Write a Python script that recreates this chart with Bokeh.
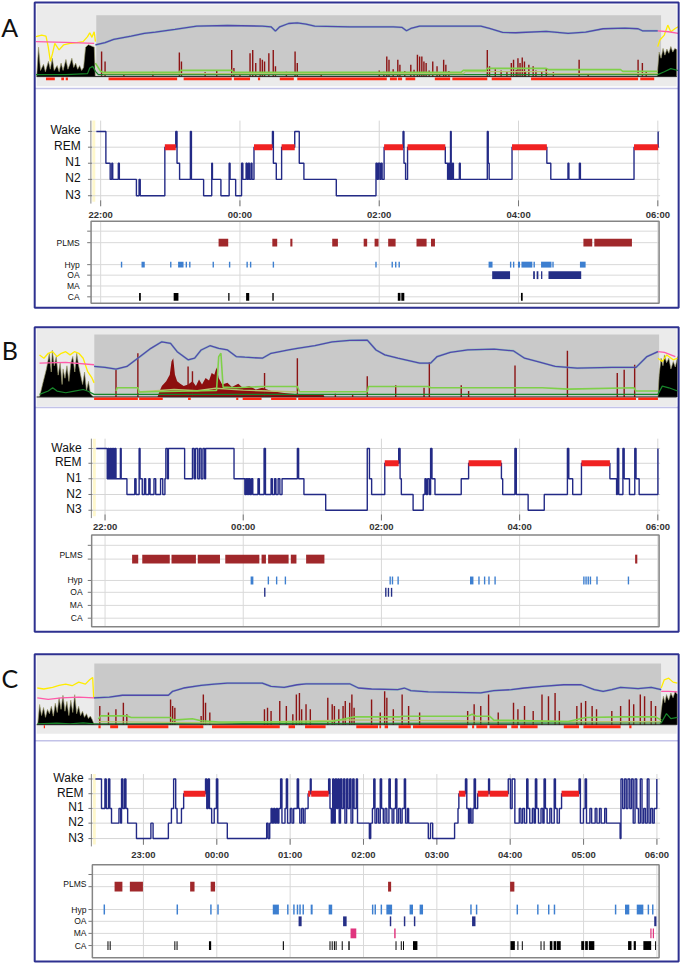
from bokeh.plotting import figure
from bokeh.layouts import column
from bokeh.models import Range1d
from bokeh.core.properties import value
from bokeh.embed import file_html
from bokeh.resources import INLINE

FONT = "Liberation Sans"
STAGE_NAMES = ["Wake", "REM", "N1", "N2", "N3"]
STAGE_CODE = {"W": 0, "R": 1, "N1": 2, "N2": 3, "N3": 4}
EVENT_NAMES = ["PLMS", "Hyp", "OA", "MA", "CA"]
EVENT_COLORS = ["#a0282b", "#3d7fd0", "#252f86", "#e0357e", "#000000"]

# ======================= Panel A (times in minutes after 22:00) =======================
A_TICKS = [0, 120, 240, 360, 480]
A_TICK_LABELS = ["22:00", "00:00", "02:00", "04:00", "06:00"]
A_HYP_T = [-3.7, 4.5, 8.2, 9.6, 10.4, 15.2, 16.1, 30.8, 33.1, 34.1, 55.3, 64.7, 65.8, 68.0, 77.3, 78.2,
           88.7, 95.7, 96.3, 103.6, 110.7, 111.5, 116.3, 121.4, 122.5, 125.3, 126.2, 127.3, 128.2, 129.6,
           130.4, 132.1, 148.0, 148.8, 151.3, 155.9, 167.2, 171.1, 175.1, 203.0, 237.2, 238.3, 239.2,
           240.5, 241.4, 242.5, 244.2, 260.5, 261.3, 262.7, 264.4, 296.9, 298.9, 299.7, 300.5, 301.4,
           302.0, 303.1, 303.9, 309.0, 309.8, 333.1, 333.9, 334.7, 354.4, 384.4, 387.8, 402.6, 403.4,
           412.4, 413.3, 459.5, 480.3]
A_HYP_S = ["W", "N1", "N2", "N1", "N2", "N1", "N2", "N3", "N2", "N3", "R", "W", "N1", "N2", "W", "N2",
           "N3", "N1", "N2", "N3", "N1", "N2", "N3", "N1", "N2", "N1", "N2", "N1", "N2", "N1",
           "N2", "R", "W", "N1", "N2", "R", "W", "N1", "N2", "N3", "N1", "N2", "N1",
           "N2", "N1", "N2", "R", "W", "N1", "N2", "R", "N1", "N2", "N1", "N2", "W",
           "N2", "N1", "N2", "N1", "N2", "W", "N1", "N2", "R", "N1", "N2", "N1", "N2",
           "N1", "N2", "R", "W"]
A_PLMS = [(101.6, 109.9), (147.9, 152.1), (163.4, 165.2), (199.5, 204.4), (226.6, 229.6), (236.0, 239.4),
          (247.7, 254.1), (272.1, 280.8), (284.6, 288.0), (415.9, 423.5), (425.3, 457.7)]
A_HYPOPNEA = [(17.4, 18.6), (35.2, 38.0), (59.8, 61.0), (66.7, 71.4), (73.2, 74.4), (76.2, 77.4),
              (96.4, 97.6), (110.5, 111.7), (125.6, 126.8), (128.6, 129.8), (148.2, 149.4), (236.6, 237.8),
              (250.6, 251.8), (253.6, 254.8), (256.6, 257.8), (334.2, 337.6), (352.6, 353.8), (355.2, 356.4),
              (359.5, 361.3), (362.5, 371.9), (372.9, 374.1), (379.4, 388.4), (389.1, 390.3), (412.9, 417.8)]
A_OA = [(337.3, 352.7), (372.6, 374.1), (375.6, 377.1), (379.4, 380.5), (385.8, 414.0)]
A_MA = []
A_CA = [(33.1, 34.6), (62.9, 67.0), (109.9, 111.0), (125.3, 128.0), (147.9, 149.1), (256.0, 258.3),
        (259.0, 261.6), (362.1, 363.6)]
# overview strip (levels in % of strip height)
A_SPO2_T = [-4.5, 3.8, 11.3, 26.3, 37.6, 47.1, 64.0, 82.8, 109.2, 139.3, 146.8, 150.6, 154.3, 161.9, 169.4,
            176.9, 184.4, 214.5, 252.2, 259.7, 263.5, 267.2, 274.8, 327.5, 335.0, 346.3, 357.6, 383.9,
            402.7, 417.8, 432.9, 451.7, 463.0, 466.7, 479.9]
A_SPO2_V = [51.6, 55.4, 60.8, 66.1, 70.4, 72.6, 76.9, 82.3, 83.3, 82.3, 81.2, 74.2, 81.2, 86.6, 87.6,
            85.5, 82.3, 81.2, 81.2, 80.1, 74.7, 78.5, 82.3, 82.3, 78.5, 72.0, 71.5, 73.7,
            70.4, 72.6, 78.0, 79.0, 78.0, 74.7, 74.7]
A_PINK_L_T = [-55.7, -30.1, -5.6]
A_PINK_L_V = [57.0, 55.9, 54.3]
A_PINK_R_T = [479.9, 489.3, 497.6]
A_PINK_R_V = [74.7, 73.1, 70.4]
A_YEL_L_T = [-55.7, -50.8, -47.1, -45.2, -43.3, -41.4, -39.5, -35.8, -32.0, -26.3, -20.7, -15.1, -11.3,
             -9.4, -7.5, -5.6, -4.5]
A_YEL_L_V = [65.1, 67.7, 66.1, 48.9, 24.7, 38.2, 54.3, 43.5, 51.6, 54.3, 55.4, 57.0, 65.1,
             71.5, 64.0, 73.1, 57.0]
A_YEL_R_T = [479.9, 481.8, 485.6, 488.6, 491.2, 495.0, 497.6]
A_YEL_R_V = [48.9, 59.7, 67.7, 83.9, 73.1, 78.5, 81.2]
A_BLK_L_T = [-55.1, -53.5, -51.8, -49.2, -47.6, -45.0, -43.4, -41.7, -40.0, -37.5, -35.8, -34.1, -32.4,
             -29.9, -28.2, -26.5, -24.8, -23.2, -21.5, -19.8, -18.1, -16.4, -14.7, -13.0, -10.5, -8.0,
             -5.5, -4.6]
A_BLK_L_V = [0, 48, 10, 20, 8, 25, 12, 30, 10, 18, 8, 22, 10, 28, 12, 20, 30, 15, 22, 12, 18, 10, 15, 48,
             52, 50, 48, 0]
A_BLK_R_T = [479.4, 481.1, 482.8, 484.5, 486.1, 487.8, 489.5, 491.2, 492.9, 494.6, 496.3, 496.3]
A_BLK_R_V = [0, 40, 30, 46, 35, 45, 38, 49, 40, 46, 44, 0]
A_SPIKE_T = [0.8, 3.8, 67.8, 69.6, 112.9, 114.8, 128.7, 131.0, 133.6, 137.4, 139.3, 141.2, 144.9, 148.7,
             150.6, 167.5, 169.4, 246.5, 248.4, 256.0, 257.8, 267.2, 272.9, 274.8, 276.7, 278.5, 280.4,
             286.1, 289.8, 295.5, 297.4, 333.1, 335.0, 353.8, 355.7, 359.5, 361.3, 363.2, 365.1, 368.9,
             372.6, 383.9, 412.2, 463.0, 466.7, 20.0, 45.0, 90.0, 100.0, 120.0, 160.0, 190.0, 240.0,
             244.0, 252.0, 262.0, 270.0, 283.0, 292.0, 300.0, 340.0, 345.0, 350.0, 358.0, 366.0, 375.0,
             380.0, 390.0, 420.0, 470.0]
A_SPIKE_V = [40.9, 24.7, 39.2, 24.7, 43.5, 14.0, 38.2, 43.5, 22.0, 30.1, 27.4, 24.7, 38.2, 43.5,
             16.7, 40.9, 22.0, 32.8, 27.4, 27.4, 19.4, 19.4, 35.5, 32.8, 32.8, 24.7, 22.0,
             24.7, 16.7, 27.4, 19.4, 43.5, 16.7, 22.0, 27.4, 30.1, 22.0, 31.2, 24.7, 19.4,
             16.7, 14.0, 27.4, 27.4, 22.0, 6.0, 8.0, 7.0, 9.0, 6.0, 8.0, 6.0, 10.0,
             8.0, 12.0, 9.0, 11.0, 10.0, 7.0, 9.0, 12.0, 10.0, 8.0, 11.0, 9.0, 10.0,
             8.0, 7.0, 6.0, 9.0]
A_BLOB_T = []
A_BLOB_V = []
A_GREEN_T = [-4.5, 0.0, 1.9, 67.8, 68.9, 112.9, 114.8, 310.5, 312.4, 332.0, 333.1, 383.9, 385.8, 447.9,
             449.8, 479.9]
A_GREEN_V = [22.0, 8.6, 7.0, 7.0, 10.2, 10.2, 7.0, 7.0, 10.2, 10.2, 13.4, 13.4, 11.3, 11.3, 8.6, 8.6]
A_OLIVE_T = [1.9, 312.4, 314.3, 383.9, 385.8, 479.9]
A_OLIVE_V = [4.8, 4.8, 8.1, 8.1, 4.8, 4.8]
A_DKGREEN_T = [-55.7, -30.1, -11.3, -9.4, -6.8, -4.5, -2.0, 479.9, 485.6, 491.2, 497.6]
A_DKGREEN_V = [3.2, 3.2, 4.8, 14.0, 16.7, 8.6, 3.2, 3.2, 8.0, 13.0, 10.0]
A_REDBAR = [(-47.1, -39.5), (-33.9, -31.6), (-30.1, -28.2), (6.8, 65.9), (71.5, 112.9), (114.8, 128.7),
            (135.5, 137.4), (154.3, 166.4), (169.4, 246.5), (249.2, 255.2), (256.0, 259.7), (262.7, 271.0),
            (287.9, 301.1), (303.0, 333.1), (336.9, 353.8), (370.8, 463.0), (464.9, 476.9)]

# ======================= Panel B =======================
B_TICKS = [0, 120, 240, 360, 480]
B_TICK_LABELS = ["22:00", "00:00", "02:00", "04:00", "06:00"]
B_HYP_T = [-7.6, 1.9, 2.7, 3.4, 4.2, 4.9, 5.7, 6.5, 7.2, 8.0, 8.7, 9.5, 13.3, 14.0, 19.0, 25.8, 26.9,
           29.6, 30.4, 32.3, 34.2, 35.3, 38.0, 39.1, 42.5, 44.0, 48.2, 50.1, 52.0, 52.8, 54.3, 55.0,
           69.1, 75.9, 77.4, 78.6, 80.5, 82.0, 83.5, 85.0, 86.5, 87.3, 112.0, 121.4, 122.2, 123.0,
           123.7, 124.5, 125.2, 126.0, 127.1, 128.3, 132.8, 134.0, 138.1, 139.3, 144.2, 145.3, 147.2,
           148.4, 150.3, 151.8, 153.7, 167.0, 168.1, 172.7, 191.6, 227.7, 229.6, 231.5, 242.9, 255.0,
           256.2, 257.3, 267.5, 276.3, 277.8, 278.9, 280.1, 281.6, 282.7, 283.9, 286.5, 309.3, 315.7,
           344.2, 345.3, 355.9, 357.1, 367.4, 381.4, 401.5, 402.7, 406.1, 413.7, 438.4, 444.2, 444.9,
           446.1, 449.7, 450.8, 455.4, 460.0, 461.1, 463.8, 480.1]
B_HYP_S = ["W", "N1", "W", "N1", "W", "N1", "W", "N1", "W", "N1", "W", "N1", "W", "N1", "N2", "N1", "N2",
           "W", "N1", "N2", "N1", "N2", "N1", "N2", "N1", "N2", "N1", "N2", "N1", "W", "N1", "W",
           "N1", "W", "N1", "W", "N1", "W", "N1", "W", "N1", "W", "N1", "N2", "N1", "N2",
           "N1", "N2", "N1", "N2", "N1", "N2", "N1", "N2", "W", "N2", "N1", "N2", "N1",
           "N2", "N1", "N2", "N1", "W", "N1", "N2", "N3", "W", "N1", "N2", "R", "W",
           "N1", "N2", "N3", "N2", "N1", "N2", "N1", "N2", "W", "N1", "N2", "N1", "R",
           "N1", "N2", "W", "N2", "N3", "N2", "W", "N1", "N2", "R", "N1", "N2", "W",
           "N2", "W", "N1", "N2", "W", "N1", "N2", "W"]
B_PLMS = [(23.5, 28.8), (32.3, 56.2), (57.7, 78.9), (80.5, 99.8), (104.4, 134.0), (135.9, 139.7),
          (141.6, 159.4), (161.3, 166.2), (174.6, 190.5), (460.3, 462.2)]
B_HYPOPNEA = [(126.4, 128.8), (141.2, 142.4), (148.4, 149.6), (156.0, 157.2), (247.0, 248.2), (249.0, 250.2),
              (253.9, 255.1), (316.9, 319.9), (324.1, 325.3), (329.0, 330.2), (332.8, 334.0), (338.1, 339.3),
              (415.2, 416.4), (417.1, 418.3), (419.0, 420.2), (420.9, 422.1), (426.6, 427.8), (453.9, 455.1)]
B_OA = [(138.1, 139.3), (243.2, 244.4), (245.5, 246.7), (248.2, 249.4)]
B_MA = []
B_CA = []
B_SPO2_T = [-9.5, 0.0, 9.5, 19.0, 30.4, 39.8, 49.3, 56.9, 62.6, 72.1, 77.8, 83.5, 91.1, 98.7, 106.3, 113.9,
            121.4, 136.6, 144.2, 159.4, 167.0, 182.2, 197.3, 212.5, 227.7, 235.3, 242.9, 254.3, 273.2,
            282.7, 288.4, 299.8, 315.0, 337.8, 354.8, 364.3, 375.7, 390.9, 409.9, 440.2, 461.1, 470.6, 480.1]
B_SPO2_V = [48.9, 47.4, 44.7, 48.9, 64.7, 77.9, 88.4, 85.8, 72.6, 59.5, 62.1, 75.3, 82.1, 77.9, 75.3, 64.7,
            63.7, 62.1, 70.0, 75.3, 77.9, 82.1, 88.4, 90.5, 91.1, 75.3, 67.4, 62.1, 54.2,
            54.2, 64.7, 71.6, 75.3, 76.8, 73.7, 62.1, 56.8, 48.9, 46.3, 47.4, 47.4, 64.7, 72.6]
B_PINK_L_T = [-56.9, -34.2, -9.5]
B_PINK_L_V = [54.2, 55.3, 51.6]
B_PINK_R_T = [480.1, 485.8, 495.2]
B_PINK_R_V = [72.6, 71.6, 64.7]
B_YEL_L_T = [-56.9, -53.1, -49.3, -45.5, -41.7, -38.0, -34.2, -30.4, -26.6, -22.8, -19.0, -15.2, -11.4, -9.5]
B_YEL_L_V = [67.4, 62.1, 70.0, 72.6, 64.7, 70.0, 72.6, 67.4, 72.6, 70.0, 62.1, 41.1, 30.5, 22.6]
B_YEL_R_T = [480.1, 483.9, 487.7, 493.4, 497.2]
B_YEL_R_V = [62.1, 56.8, 67.4, 59.5, 62.1]
B_BLK_L_T = [-56.9, -54.3, -50.9, -48.4, -46.7, -45.8, -44.1, -42.4, -40.7, -39.0, -37.3, -36.5, -34.8,
             -33.1, -31.4, -29.7, -28.0, -26.3, -24.6, -22.9, -21.2, -19.5, -17.8, -16.1, -14.4, -12.7,
             -10.2]
B_BLK_L_V = [0, 20, 45, 70, 40, 75, 50, 65, 35, 55, 20, 45, 30, 50, 25, 55, 65, 40, 70, 50, 35, 20, 40,
             10, 25, 5, 0]
B_BLK_R_T = [480.1, 481.2, 482.8, 484.5, 485.8, 487.6, 489.6, 491.4, 493.4, 495.2, 497.2, 497.2]
B_BLK_R_V = [0, 35.8, 62.1, 50.0, 67.4, 55.0, 62.1, 45.0, 56.8, 48.0, 64.7, 0]
B_SPIKE_T = [9.5, 28.5, 72.1, 75.9, 138.5, 167.0, 227.7, 252.4, 277.0, 281.6, 309.3, 315.7, 356.0, 401.5,
             444.8, 450.8, 459.9, 200.0, 215.0]
B_SPIKE_V = [43.7, 70.0, 48.9, 41.1, 38.4, 62.1, 33.2, 18.9, 14.7, 55.8, 18.9, 9.5, 50.5, 74.2,
             38.4, 43.7, 51.6, 5.0, 4.0]
B_BLOB_T = [45.5, 47.4, 49.3, 53.1, 56.2, 57.7, 59.2, 60.7, 62.6, 65.3, 68.3, 72.1, 75.9, 78.9, 81.6, 84.2,
            87.3, 90.3, 92.6, 94.9, 96.8, 98.7, 101.7, 106.3, 110.1, 115.7, 119.5, 125.2, 130.9, 136.6,
            144.2, 155.6, 167.0, 189.8, 190.5]
B_BLOB_V = [0, 9.5, 17.4, 25.3, 35.8, 56.8, 62.1, 35.8, 25.3, 21.1, 17.4, 20.0, 25.3, 17.4, 27.9, 20.0,
            30.5, 26.3, 38.4, 35.8, 47.4, 30.5, 20.0, 22.6, 15.8, 21.1, 14.7, 17.4, 12.1, 14.7,
            9.5, 6.3, 4.2, 3.2, 0]
B_GREEN_T = [9.5, 10.6, 28.5, 29.6, 75.9, 96.8, 98.7, 100.6, 102.5, 113.9, 136.6, 167.0, 168.9, 227.7,
             228.8, 280.8, 282.7, 379.5, 402.3, 459.2, 461.1, 480.1]
B_GREEN_V = [9.5, 14.7, 14.7, 7.9, 9.5, 10.5, 64.7, 70.0, 15.8, 14.7, 16.8, 16.8, 8.4, 8.4,
             16.8, 16.8, 14.7, 14.7, 12.6, 14.7, 9.5, 9.5]
B_OLIVE_T = [28.5, 60.0, 80.0, 96.0, 120.0, 167.0]
B_OLIVE_V = [8.0, 12.0, 10.0, 14.0, 11.0, 8.0]
B_DKGREEN_T = [-56.9, -49.3, -45.5, -41.7, -34.2, -26.6, -19.0, -15.2, -9.5, 480.1, 483.9, 489.6, 497.2]
B_DKGREEN_V = [4.2, 9.5, 14.7, 9.5, 6.8, 9.5, 12.0, 9.5, 4.2, 4.2, 17.4, 14.7, 9.5]
B_REDBAR = [(-9.5, 28.5), (29.6, 50.1), (72.1, 74.4), (113.9, 115.7), (119.5, 135.9), (144.2, 166.2),
            (167.7, 461.1), (463.0, 480.1)]

# ======================= Panel C =======================
C_TICKS = [60, 120, 180, 240, 300, 360, 420, 480]
C_TICK_LABELS = ["23:00", "00:00", "01:00", "02:00", "03:00", "04:00", "05:00", "06:00"]
C_HYP_T = [20.7, 25.7, 28.5, 29.6, 31.4, 32.5, 33.9, 40.0, 41.4, 42.1, 43.2, 44.6, 45.7, 47.1, 54.3,
           66.1, 67.9, 80.4, 82.9, 84.7, 86.4, 87.5, 91.1, 92.9, 110.8, 111.8, 112.9, 114.0, 115.8,
           117.9, 119.7, 120.8, 128.6, 160.8, 162.0, 163.3, 164.4, 165.4, 166.5, 167.6, 168.7, 169.7,
           170.8, 172.2, 173.3, 175.8, 176.9, 177.9, 180.1, 181.5, 182.9, 185.8, 186.9, 187.9, 189.4,
           190.8, 192.2, 194.7, 196.5, 197.2, 211.5, 212.6, 213.7, 214.8, 215.8, 216.9, 218.0, 219.0,
           220.1, 221.2, 222.3, 223.7, 224.8, 226.2, 227.3, 228.7, 229.8, 231.2, 232.3, 234.1, 235.1,
           244.8, 245.9, 247.3, 248.4, 249.4, 250.8, 252.3, 253.7, 254.8, 256.2, 257.6, 259.1, 260.8,
           261.9, 263.4, 264.8, 266.2, 267.3, 268.7, 270.2, 271.6, 273.4, 274.4, 275.9, 276.9, 293.0,
           294.8, 296.6, 314.5, 317.3, 318.0, 323.4, 324.5, 325.9, 327.0, 328.0, 329.5, 330.5, 331.6,
           333.4, 342.3, 343.1, 358.4, 360.2, 361.6, 363.8, 367.4, 368.8, 370.2, 371.7, 373.5, 374.5,
           376.0, 378.1, 379.5, 380.6, 381.7, 383.1, 385.2, 386.7, 387.7, 388.8, 390.2, 392.4, 393.8,
           396.0, 397.0, 398.4, 400.2, 402.0, 416.3, 417.4, 419.9, 421.3, 422.4, 425.2, 426.6, 429.5,
           430.9, 433.0, 434.4, 437.3, 438.7, 449.9, 450.6, 452.0, 453.5, 454.9, 456.3, 457.8, 459.2,
           460.6, 462.1, 463.5, 464.9, 466.4, 467.8, 469.2, 470.6, 472.1, 473.5, 474.9, 476.4, 477.8,
           479.9]
C_HYP_S = ["W", "N1", "W", "N1", "W", "N1", "N2", "N1", "N2", "W", "N1", "W", "N1", "N2", "N3",
           "N2", "N3", "N2", "N1", "W", "N1", "N2", "N1", "R", "W", "N1", "W", "N1", "N2",
           "N1", "W", "N2", "N3", "N2", "N3", "N2", "N1", "N2", "N1", "N2", "N1", "N2",
           "N1", "W", "N2", "N1", "W", "N2", "N1", "N2", "N1", "W", "N1", "N2", "N1",
           "N2", "N1", "R", "W", "R", "W", "N1", "N2", "W", "N2", "W", "N1", "W",
           "N2", "W", "N1", "W", "N2", "W", "N1", "W", "N2", "W", "N1", "W", "N2",
           "N3", "N2", "N1", "W", "N2", "N1", "N2", "W", "N1", "N2", "N1", "N2", "W",
           "N1", "N2", "N1", "W", "N2", "N1", "N2", "N1", "W", "N2", "N1", "N2", "N3",
           "N2", "N3", "N2", "N1", "R", "W", "N1", "N2", "N1", "N2", "N1", "W", "N1",
           "R", "W", "R", "W", "N1", "W", "N2", "N1", "N2", "N1", "N2", "W", "N1",
           "N2", "N1", "N2", "W", "N1", "N2", "N1", "N2", "W", "N1", "N2", "N1", "N2",
           "W", "N1", "N2", "N1", "R", "W", "N2", "N1", "W", "N2", "N1", "N2", "N1",
           "N2", "N1", "N2", "N1", "N2", "N3", "W", "N1", "W", "N1", "W", "N1", "W",
           "N2", "W", "N1", "N2", "W", "N2", "N1", "N2", "W", "N2", "N1", "N2", "N1",
           "W"]
C_PLMS = [(36.4, 42.8), (48.9, 59.6), (98.2, 101.8), (115.0, 118.6), (260.1, 262.6), (359.9, 363.4)]
C_HYPOPNEA = [(27.4, 28.6), (87.1, 88.3), (114.6, 115.8), (120.4, 121.6), (165.8, 170.8), (177.5, 178.7),
              (182.5, 183.7), (185.4, 186.6), (187.5, 188.7), (190.1, 191.3), (196.8, 198.4), (211.5, 214.4),
              (246.9, 248.1), (249.0, 250.2), (254.0, 255.2), (258.7, 263.4), (277.7, 280.5), (285.9, 288.7),
              (327.3, 328.5), (331.9, 333.1), (365.2, 366.4), (382.0, 383.2), (390.9, 392.1), (395.6, 396.8),
              (445.6, 446.8), (453.9, 457.4), (463.5, 468.9), (472.4, 473.6), (476.0, 477.2)]
C_OA = [(186.9, 189.4), (223.3, 226.2), (261.5, 262.7), (273.0, 274.2), (281.2, 282.4), (328.8, 331.6),
        (477.8, 479.6)]
C_MA = [(229.4, 234.1), (265.1, 266.3), (474.6, 475.6), (476.6, 477.6)]
C_CA = [(30.6, 31.4), (32.4, 33.2), (85.3, 86.1), (87.1, 87.9), (113.6, 115.4), (174.0, 174.9), (212.2, 213.0),
        (214.0, 214.8), (215.8, 216.6), (217.2, 218.0), (222.2, 223.0), (227.6, 228.7), (266.2, 267.0),
        (270.5, 271.3), (272.3, 273.1), (280.5, 284.1), (360.2, 363.8), (365.9, 366.7), (369.5, 370.3),
        (384.8, 385.6), (387.3, 388.1), (392.4, 394.5), (395.5, 397.5), (398.0, 401.3), (418.1, 420.5),
        (421.3, 423.5), (424.3, 428.8), (456.4, 459.2), (461.0, 462.8), (468.9, 475.3), (478.5, 479.3)]
C_SPO2_T = [19.6, 32.1, 42.8, 80.4, 83.9, 92.9, 107.2, 117.9, 128.6, 157.2, 164.4, 175.1, 185.8, 193.0,
            228.7, 235.8, 246.6, 268.0, 273.4, 278.7, 293.0, 335.9, 346.6, 360.9, 371.7, 386.0, 403.8,
            418.1, 428.8, 436.0, 443.1, 450.3, 464.6, 475.3, 483.5]
C_SPO2_V = [43.9, 44.9, 48.1, 48.1, 54.5, 59.9, 64.2, 66.3, 67.9, 67.9, 62.6, 61.0, 65.2, 66.8,
            66.8, 59.9, 58.3, 57.2, 59.9, 55.6, 53.5, 51.9, 55.6, 57.2, 59.9, 62.6, 65.2,
            65.2, 57.2, 54.5, 57.2, 61.0, 58.8, 61.0, 57.2]
C_PINK_L_T = [-26.8, -17.9, -7.2, 7.1, 19.6]
C_PINK_L_V = [43.9, 41.2, 43.9, 44.9, 43.9]
C_PINK_R_T = [483.5, 489.6, 496.7]
C_PINK_R_V = [54.5, 54.5, 53.5]
C_YEL_L_T = [-26.8, -21.5, -14.3, -9.0, -3.6, 1.7, 7.1, 12.5, 16.0, 18.5, 19.3]
C_YEL_L_V = [59.9, 58.3, 61.0, 64.2, 66.3, 63.6, 69.5, 66.3, 73.3, 77.0, 43.9]
C_YEL_R_T = [483.5, 486.0, 489.6, 493.2, 496.7]
C_YEL_R_V = [59.9, 73.3, 75.9, 69.5, 67.9]
C_BLK_L_T = [-26.5, -24.9, -23.3, -21.7, -20.1, -18.5, -16.9, -15.3, -13.7, -12.1, -10.5, -9.0, -7.4, -5.8,
             -4.2, -2.6, -1.0, 0.6, 2.2, 3.8, 5.4, 7.0, 8.6, 10.2, 11.8, 13.4, 15.0, 16.6, 18.2, 19.8]
C_BLK_L_V = [0, 33, 15, 28, 12, 25, 18, 30, 14, 35, 20, 44, 25, 48, 22, 38, 15, 40, 20, 49, 18, 30, 15, 22,
             12, 18, 10, 14, 8, 0]
C_BLK_R_T = [482.5, 483.5, 484.5, 485.3, 486.5, 487.8, 489.6, 491.4, 493.2, 494.9, 496.7, 496.7]
C_BLK_R_V = [0, 22.5, 38.0, 46.5, 36.0, 49.2, 40.0, 51.9, 44.0, 54.5, 49.2, 0]
C_SPIKE_T = [24.3, 31.4, 37.5, 43.6, 46.4, 82.2, 83.9, 85.7, 107.2, 109.0, 110.8, 114.3, 159.0, 161.5,
             164.4, 171.5, 176.9, 182.2, 185.1, 187.6, 189.4, 193.0, 196.5, 210.8, 214.4, 216.2, 219.8,
             223.3, 225.1, 228.7, 230.5, 232.3, 246.6, 253.7, 257.3, 259.1, 264.4, 271.6, 276.9, 285.9,
             325.2, 330.5, 335.9, 342.3, 350.2, 362.7, 366.3, 371.7, 378.8, 386.0, 391.3, 396.7, 400.2,
             414.5, 418.1, 421.7, 427.0, 430.6, 443.1, 450.3, 457.4, 461.0, 466.4, 469.9, 475.3, 478.9]
C_SPIKE_V = [30.5, 19.8, 25.1, 35.8, 17.1, 41.2, 30.5, 27.8, 14.4, 49.2, 35.8, 19.8, 25.1, 27.8,
             22.5, 38.5, 30.5, 17.1, 49.2, 51.9, 25.1, 33.2, 25.1, 43.9, 33.2, 30.5, 25.1,
             30.5, 38.5, 35.8, 49.2, 27.8, 41.2, 19.8, 54.5, 43.9, 25.1, 49.2, 30.5, 19.8,
             22.5, 33.2, 30.5, 49.2, 19.8, 35.8, 25.1, 30.5, 22.5, 49.2, 46.5, 51.9, 22.5,
             30.5, 35.8, 38.5, 30.5, 25.1, 22.5, 30.5, 41.2, 33.2, 49.2, 46.5, 38.5, 30.5]
C_BLOB_T = []
C_BLOB_V = []
C_GREEN_T = [23.2, 25.0, 46.4, 50.0, 82.2, 83.9, 100.0, 107.2, 121.5, 193.0, 214.4, 232.3, 269.8, 271.6,
             325.2, 328.8, 332.3, 343.1, 346.6, 407.4, 421.7, 450.3, 478.9, 483.5]
C_GREEN_V = [9.1, 14.4, 14.4, 11.8, 11.8, 7.5, 9.6, 6.4, 4.3, 4.3, 5.3, 12.8, 12.8, 13.9,
             13.9, 17.1, 13.9, 13.9, 7.5, 5.3, 11.8, 12.8, 12.8, 7.5]
C_OLIVE_T = [23.2, 120.0, 232.3, 330.0, 421.7, 483.5]
C_OLIVE_V = [5.0, 3.0, 8.0, 6.0, 5.0, 5.0]
C_DKGREEN_T = [-26.8, -10.8, 0.0, 10.7, 19.6, 483.5, 487.8, 491.4, 496.7]
C_DKGREEN_V = [1.5, 2.5, 1.5, 3.0, 1.5, 3.0, 18.0, 10.0, 12.0]
C_REDBAR = [(-21.5, -20.5), (23.2, 25.0), (32.8, 39.3), (47.1, 80.4), (89.3, 109.0), (116.1, 171.5),
            (178.7, 184.0), (192.2, 209.0), (234.1, 251.9), (253.0, 254.4), (257.3, 260.1), (268.7, 278.7),
            (280.5, 325.2), (328.8, 330.5), (332.3, 341.3), (343.1, 357.4), (360.9, 366.3), (368.1, 382.4),
            (403.8, 416.3), (419.9, 450.3), (457.4, 459.2)]

# ======================= layout (page pixels of the reference) =======================
GEOM = {
    "A": dict(x0=102.5, ppm=1.1879, yr=(0, 322), h=317, letter_y=26.5, border=(35, 694, 2, 312),
              ov=(37, 692, 4, 87), inner=(98, 676, 15, 77.3), redbar=(78.3, 80.9), sep=89.3,
              levels=[133, 149, 165.3, 181.7, 198.3], vgrid=(122, 209), ticklab=217.5,
              box=(92.7, 674, 224.3, 307.5), rows=[246, 268.3, 279, 290, 301], blank=[234.3],
              hyp_lab_x=82, ev_lab_x=81, lab_dy=[0, 0, 0, 0, 0], bar_h=[8, 6, 8, 8, 8], hyp_left=92.5),
    "B": dict(x0=107.0, ppm=1.1785, yr=(322, 654), h=327, letter_y=355, border=(35, 694, 332, 641),
              ov=(37, 692, 333.5, 412), inner=(96, 674, 339.3, 402.7), redbar=(403.2, 405.8), sep=413.5,
              levels=[455, 470, 485.7, 501.7, 517.7], vgrid=(445, 528), ticklab=534.5,
              box=(93.3, 674, 542.7, 636), rows=[567.3, 589, 601, 614.3, 627.3], blank=[553.3],
              hyp_lab_x=83, ev_lab_x=84, lab_dy=[-4, 0, 0, 0, 0], bar_h=[9, 8, 9, 9, 9], hyp_left=93),
    "C": dict(x0=71.2, ppm=1.2512, yr=(654, 980), h=320, letter_y=688, border=(35, 694, 664, 977),
              ov=(37, 692, 665, 745), inner=(96, 676, 673.3, 735.7), redbar=(736.3, 739.3), sep=752,
              levels=[791, 806, 821, 836, 851.7], vgrid=(786, 858), ticklab=867.7,
              box=(94, 674, 878.3, 973), rows=[900.7, 924, 936, 948.3, 960.7], blank=[888.3],
              hyp_lab_x=85, ev_lab_x=88, lab_dy=[-2.5, 0, 0, 0, 0], bar_h=[10, 10, 10, 10, 9], hyp_left=93),
}

PANELS = {
    "A": dict(ticks=A_TICKS, tlabels=A_TICK_LABELS, hyp_t=A_HYP_T, hyp_s=A_HYP_S,
              events=[A_PLMS, A_HYPOPNEA, A_OA, A_MA, A_CA],
              spo2=(A_SPO2_T, A_SPO2_V), pink=[(A_PINK_L_T, A_PINK_L_V), (A_PINK_R_T, A_PINK_R_V)],
              yel=[(A_YEL_L_T, A_YEL_L_V), (A_YEL_R_T, A_YEL_R_V)],
              blk=[(A_BLK_L_T, A_BLK_L_V), (A_BLK_R_T, A_BLK_R_V)], spikes=(A_SPIKE_T, A_SPIKE_V),
              blob=(A_BLOB_T, A_BLOB_V), green=(A_GREEN_T, A_GREEN_V), olive=(A_OLIVE_T, A_OLIVE_V),
              dkgreen=(A_DKGREEN_T, A_DKGREEN_V), redbar=A_REDBAR),
    "B": dict(ticks=B_TICKS, tlabels=B_TICK_LABELS, hyp_t=B_HYP_T, hyp_s=B_HYP_S,
              events=[B_PLMS, B_HYPOPNEA, B_OA, B_MA, B_CA],
              spo2=(B_SPO2_T, B_SPO2_V), pink=[(B_PINK_L_T, B_PINK_L_V), (B_PINK_R_T, B_PINK_R_V)],
              yel=[(B_YEL_L_T, B_YEL_L_V), (B_YEL_R_T, B_YEL_R_V)],
              blk=[(B_BLK_L_T, B_BLK_L_V), (B_BLK_R_T, B_BLK_R_V)], spikes=(B_SPIKE_T, B_SPIKE_V),
              blob=(B_BLOB_T, B_BLOB_V), green=(B_GREEN_T, B_GREEN_V), olive=(B_OLIVE_T, B_OLIVE_V),
              dkgreen=(B_DKGREEN_T, B_DKGREEN_V), redbar=B_REDBAR),
    "C": dict(ticks=C_TICKS, tlabels=C_TICK_LABELS, hyp_t=C_HYP_T, hyp_s=C_HYP_S,
              events=[C_PLMS, C_HYPOPNEA, C_OA, C_MA, C_CA],
              spo2=(C_SPO2_T, C_SPO2_V), pink=[(C_PINK_L_T, C_PINK_L_V), (C_PINK_R_T, C_PINK_R_V)],
              yel=[(C_YEL_L_T, C_YEL_L_V), (C_YEL_R_T, C_YEL_R_V)],
              blk=[(C_BLK_L_T, C_BLK_L_V), (C_BLK_R_T, C_BLK_R_V)], spikes=(C_SPIKE_T, C_SPIKE_V),
              blob=(C_BLOB_T, C_BLOB_V), green=(C_GREEN_T, C_GREEN_V), olive=(C_OLIVE_T, C_OLIVE_V),
              dkgreen=(C_DKGREEN_T, C_DKGREEN_V), redbar=C_REDBAR),
}


def make_panel(name):
    g = GEOM[name]
    d = PANELS[name]
    x0, ppm = g["x0"], g["ppm"]

    def X(px):
        return (px - x0) / ppm

    p = figure(width=684, height=g["h"], x_range=Range1d(X(0), X(700)),
               y_range=Range1d(g["yr"][1], g["yr"][0]), output_backend="svg",
               toolbar_location=None, min_border=0, x_axis_type=None, y_axis_type=None)
    p.outline_line_color = None
    p.background_fill_color = "white"
    p.border_fill_color = "white"

    # ---------------- overview strip ----------------
    ol, orr, ot, ob = g["ov"]
    p.quad(left=X(ol), right=X(orr), top=ot, bottom=ob, fill_color="#ebebeb", line_color=None)
    il, ir, itop, ibase = g["inner"]
    p.quad(left=X(il), right=X(ir), top=itop, bottom=ibase, fill_color="#c9c9c9", line_color=None)

    def Y(vals):
        return [ibase - v * (ibase - itop) / 100.0 for v in vals]

    for t, v in d["blk"]:
        p.varea(x=t, y1=[ibase] * len(t), y2=Y(v), fill_color="black")
        p.line(t, Y(v), line_color="#9c9a6a", line_width=0.8, alpha=0.8)
    if d["blob"][0]:
        bt, bv = d["blob"]
        p.varea(x=bt, y1=[ibase] * len(bt), y2=Y(bv), fill_color="#8c0e0e")
    st, sv = d["spikes"]
    p.segment(x0=st, y0=[ibase] * len(st), x1=st, y1=Y(sv), line_color="#8c1414", line_width=1.4)
    for t, v in d["yel"]:
        p.line(t, Y(v), line_color="#ffec00", line_width=1.3)
    for t, v in d["pink"]:
        p.line(t, Y(v), line_color="#ff5aa8", line_width=1.3)
    p.line(d["dkgreen"][0], Y(d["dkgreen"][1]), line_color="#17852a", line_width=1.2)
    p.line(d["olive"][0], Y(d["olive"][1]), line_color="#b5c46e", line_width=1.3)
    p.line(d["green"][0], Y(d["green"][1]), line_color="#7fd049", line_width=1.6)
    p.line(d["spo2"][0], Y(d["spo2"][1]), line_color="#55b7b7", line_width=2.2, alpha=0.5)
    p.line(d["spo2"][0], Y(d["spo2"][1]), line_color="#5446ab", line_width=1.3)
    p.segment(x0=X(ol), y0=ibase, x1=X(orr), y1=ibase, line_color="#222222", line_width=1)
    rb0, rb1 = g["redbar"]
    p.quad(left=[a for a, b in d["redbar"]], right=[b for a, b in d["redbar"]],
           top=rb0, bottom=rb1, fill_color="#ff2a12", line_color=None)

    # separator
    bl, br, btop, bbot = g["border"]
    p.segment(x0=X(bl), y0=g["sep"], x1=X(br), y1=g["sep"], line_color="#c2c2e8", line_width=1.5)

    # ---------------- hypnogram ----------------
    lv = g["levels"]
    hl = g["hyp_left"]
    ticks = d["ticks"]
    vg0, vg1 = g["vgrid"]
    right = X(675)
    p.quad(left=X(hl + 1.5), right=X(hl + 4.5), top=vg0, bottom=lv[4] + 6, fill_color="#fff8cc",
           line_color=None)
    p.segment(x0=[X(hl)] * 5, y0=lv, x1=[right] * 5, y1=lv, line_color="#d6d6d6", line_width=1)
    p.segment(x0=ticks, y0=[vg0] * len(ticks), x1=ticks, y1=[vg1] * len(ticks),
              line_color="#d6d6d6", line_width=1)
    p.segment(x0=ticks, y0=[vg1 - 6] * len(ticks), x1=ticks, y1=[vg1] * len(ticks),
              line_color="#777777", line_width=1)
    p.segment(x0=X(hl), y0=vg0, x1=X(hl), y1=lv[4] + 8, line_color="#8a8a8a", line_width=1)
    p.segment(x0=[X(hl - 3)] * 5, y0=lv, x1=[X(hl + 1)] * 5, y1=lv, line_color="#777777", line_width=1)

    ys = [lv[STAGE_CODE[s]] for s in d["hyp_s"]]
    p.step(x=d["hyp_t"], y=ys, mode="after", line_color="#232a86", line_width=1.4)
    rem_x0, rem_x1 = [], []
    for i in range(len(d["hyp_s"]) - 1):
        if d["hyp_s"][i] == "R":
            rem_x0.append(d["hyp_t"][i])
            rem_x1.append(d["hyp_t"][i + 1])
    p.segment(x0=rem_x0, y0=[lv[1]] * len(rem_x0), x1=rem_x1, y1=[lv[1]] * len(rem_x0),
              line_color="#f02222", line_width=6)

    p.text(x=[X(g["hyp_lab_x"])] * 5, y=[v - 1 for v in lv], text=STAGE_NAMES, text_align="right",
           text_baseline="middle", text_font=value(FONT), text_font_size="12px", text_color="#111111")
    p.text(x=ticks, y=[g["ticklab"]] * len(ticks), text=d["tlabels"], text_align="center",
           text_baseline="middle", text_font=value(FONT), text_font_size="9.5px",
           text_font_style="bold", text_color="#333333")

    # ---------------- events box ----------------
    xl, xr, yt, yb = g["box"]
    rows = g["rows"]
    allrows = rows + g["blank"]
    p.segment(x0=[X(xl)] * len(allrows), y0=allrows, x1=[X(xr)] * len(allrows), y1=allrows,
              line_color="#d9d9d9", line_width=1)
    p.segment(x0=ticks, y0=[yt] * len(ticks), x1=ticks, y1=[yb] * len(ticks),
              line_color="#d9d9d9", line_width=1)
    p.segment(x0=[X(xl - 4)] * len(allrows), y0=allrows, x1=[X(xl)] * len(allrows), y1=allrows,
              line_color="#777777", line_width=1)
    for k, evs in enumerate(d["events"]):
        if not evs:
            continue
        h = g["bar_h"][k]
        p.quad(left=[a for a, b in evs], right=[b for a, b in evs], top=rows[k] - h / 2,
               bottom=rows[k] + h / 2, fill_color=EVENT_COLORS[k], line_color=None)
    p.quad(left=X(xl), right=X(xr), top=yt, bottom=yb, fill_color=None, line_color="#858585",
           line_width=1.5)
    p.text(x=[X(g["ev_lab_x"])] * 5, y=[r + dy for r, dy in zip(rows, g["lab_dy"])], text=EVENT_NAMES,
           text_align="right", text_baseline="middle", text_font=value(FONT), text_font_size="8.5px",
           text_color="#111111")

    # ---------------- frame and letter ----------------
    p.quad(left=X(bl), right=X(br), top=btop, bottom=bbot, fill_color=None, line_color="#2e3190",
           line_width=2)
    p.text(x=[X(9.5)], y=[g["letter_y"]], text=[name], text_align="center", text_baseline="middle",
           text_font=value("Lato"), text_font_size="25px", text_color="#111111")
    return p


layout = column(make_panel("A"), make_panel("B"), make_panel("C"), spacing=0)
open("out.html", "w").write(file_html(layout, INLINE))
